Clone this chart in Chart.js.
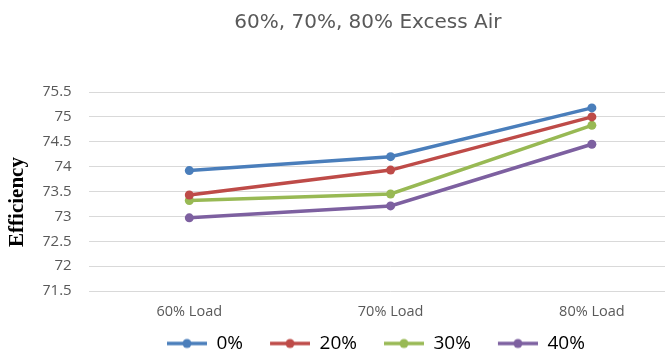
<!DOCTYPE html>
<html>
<head>
<meta charset="utf-8">
<script src="https://cdn.jsdelivr.net/npm/chart.js@4"></script>
<style>
  html, body { margin: 0; padding: 0; background: #fff; overflow: hidden; }
  #wrap { position: relative; width: 740px; height: 363px; }
</style>
</head>
<body>
<div id="wrap"><canvas id="c" width="740" height="363"></canvas></div>
<script>
const categories = ['60% Load', '70% Load', '80% Load'];
const seriesNames = ['0%', '20%', '30%', '40%'];
const eff0 = [73.92, 74.20, 75.18];
const eff20 = [73.43, 73.93, 75.00];
const eff30 = [73.32, 73.45, 74.83];
const eff40 = [72.97, 73.21, 74.45];
const yTicks = [71.5, 72, 72.5, 73, 73.5, 74, 74.5, 75, 75.5];
const colors = ['#4A7EBB', '#BE4B48', '#98B954', '#7D60A0'];

// legend marker: short line with a dot, with a transparent lead-in for spacing
const MARK_LEAD = 26, MARK_LEN = 40;
function marker(color) {
  const c = document.createElement('canvas');
  c.width = MARK_LEAD + MARK_LEN; c.height = 12;
  const g = c.getContext('2d');
  g.strokeStyle = color; g.lineWidth = 3.5;
  g.beginPath(); g.moveTo(MARK_LEAD, 6); g.lineTo(MARK_LEAD + MARK_LEN, 6); g.stroke();
  g.fillStyle = color;
  g.beginPath(); g.arc(MARK_LEAD + MARK_LEN / 2, 6, 4.5, 0, Math.PI * 2); g.fill();
  return c;
}

// nudge the legend row left to balance the marker lead-in
const legendNudge = {
  id: 'legendNudge',
  afterLayout(chart) {
    if (chart.legend) { chart.legend.left -= 5; chart.legend.right -= 5; }
  }
};

const seriesData = [eff0, eff20, eff30, eff40];
const datasets = seriesNames.map((name, i) => ({
  label: name,
  data: seriesData[i],
  borderColor: colors[i],
  backgroundColor: colors[i],
  borderWidth: 3.5,
  pointRadius: 4.5,
  pointHoverRadius: 4.5,
  pointBorderWidth: 0,
  tension: 0
}));

new Chart(document.getElementById('c'), {
  type: 'line',
  data: { labels: categories, datasets },
  plugins: [legendNudge],
  options: {
    responsive: false,
    animation: false,
    layout: { padding: { left: 43.3, right: 47.5, top: 0, bottom: 0 } },
    plugins: {
      tooltip: { enabled: false },
      title: {
        display: true,
        text: '60%, 70%, 80% Excess Air',
        color: '#595959',
        font: { family: 'DejaVu Sans', size: 20, weight: 'normal', lineHeight: 1.2 },
        padding: { top: 10.5, bottom: 57.5 }
      },
      legend: {
        position: 'bottom',
        labels: {
          color: '#404040',
          font: { family: 'Open Sans', size: 19 },
          usePointStyle: true,
          pointStyleWidth: MARK_LEAD + MARK_LEN,
          padding: 1,
          generateLabels: (chart) => chart.data.datasets.map((ds, i) => ({
            text: ds.label,
            fillStyle: ds.borderColor,
            strokeStyle: ds.borderColor,
            pointStyle: marker(ds.borderColor),
            datasetIndex: i,
            hidden: false,
            lineWidth: 0
          }))
        }
      }
    },
    scales: {
      x: {
        offset: true,
        grid: { display: false, drawTicks: false },
        border: { display: false },
        ticks: { color: '#595959', font: { family: 'Open Sans', size: 14.5, lineHeight: 1.2 }, padding: 12.3 }
      },
      y: {
        min: 71.5,
        max: 75.5,
        afterBuildTicks: (axis) => { axis.ticks = yTicks.map(v => ({ value: v })); },
        grid: { color: '#D9D9D9', lineWidth: 1, drawTicks: false },
        border: { display: false },
        ticks: {
          color: '#595959',
          font: { family: 'Open Sans', size: 15 },
          padding: 17,
          callback: (v) => String(v)
        },
        title: {
          display: true,
          text: 'Efficiency    ',
          color: '#000',
          font: { family: 'Liberation Serif', size: 21, weight: 'bold', lineHeight: 1.2 },
          padding: { top: -38.4, bottom: -5.1 }
        }
      }
    }
  }
});
</script>
</body>
</html>
